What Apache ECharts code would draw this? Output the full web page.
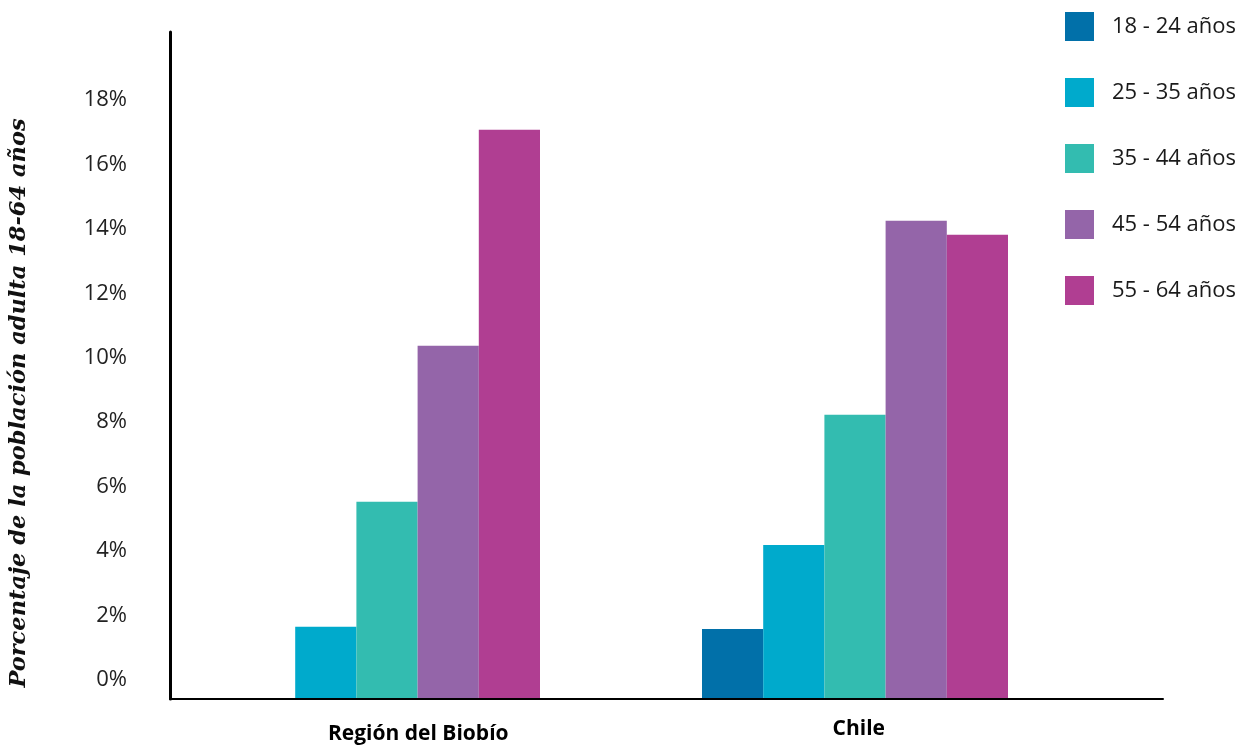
<!DOCTYPE html>
<html>
<head>
<meta charset="utf-8">
<script src="https://cdn.jsdelivr.net/npm/echarts@6/dist/echarts.min.js"></script>
<style>
html,body{margin:0;padding:0;background:#fff;}
#chart{width:1254px;height:749px;}
</style>
</head>
<body>
<div id="chart"></div>
<script>
// ---- data ----
const categories = ['Región del Biobío', 'Chile'];
const seriesNames = ['18 - 24 años', '25 - 35 años', '35 - 44 años', '45 - 54 años', '55 - 64 años'];
const age18_24 = [0, 2.17];
const age25_35 = [2.24, 4.78];
const age35_44 = [6.12, 8.82];
const age45_54 = [10.96, 14.84];
const age55_64 = [17.67, 14.41];
const yTickMax = 18;
const yTitle = 'Porcentaje de la población adulta 18-64 años';

const seriesValues = [age18_24, age25_35, age35_44, age45_54, age55_64];
const colors = ['#0170a9', '#00aacc', '#33bcb0', '#9465a9', '#b03e92'];

const chart = echarts.init(document.getElementById('chart'), null, {renderer: 'canvas'});
const axisMax = 20.7;

const option = {
  animation: false,
  backgroundColor: '#ffffff',
  grid: [
    {left: 153, right: 165, top: 32, bottom: 50},
    {left: 170, right: 91, top: 32, bottom: 50}
  ],
  legend: {
    data: seriesNames,
    orient: 'vertical',
    left: 1060,
    top: 7,
    itemWidth: 29,
    itemHeight: 29,
    itemGap: 37,
    icon: 'rect',
    textStyle: {fontFamily: 'Open Sans', fontSize: 22, color: '#1a1a1a', padding: [0, 0, 0, 13]}
  },
  xAxis: [
    {gridIndex: 0, type: 'category', data: categories, show: false},
    {
      gridIndex: 1, type: 'category', data: categories, z: 5,
      axisLine: {lineStyle: {color: '#000', width: 2}},
      axisTick: {show: false},
      axisLabel: {
        margin: 20,
        formatter: function (v, i) { return i === 0 ? '{a|' + v + '}' : '{b|' + v + '}'; },
        rich: {
          a: {fontFamily: 'Open Sans', fontWeight: 'bold', fontSize: 21, color: '#000', padding: [5, 0, 0, 0]},
          b: {fontFamily: 'Open Sans', fontWeight: 'bold', fontSize: 21, color: '#000', padding: [0, 112, 0, 0]}
        }
      }
    }
  ],
  yAxis: [
    {gridIndex: 0, type: 'value', min: 0, max: axisMax, show: false},
    {
      gridIndex: 1, type: 'value', min: 0, max: axisMax, interval: 2, z: 5,
      axisLine: {show: true, lineStyle: {color: '#000', width: 3}},
      axisTick: {show: false},
      splitLine: {show: false},
      axisLabel: {
        margin: 43,
        fontFamily: 'Open Sans', fontSize: 22, color: '#222',
        verticalAlign: 'bottom',
        lineHeight: 38,
        formatter: function (v) { return v <= yTickMax ? v + '%' : ''; }
      }
    }
  ],
  graphic: [{
    type: 'text',
    x: 19, y: 403,
    rotation: Math.PI / 2,
    style: {
      text: yTitle,
      font: 'italic bold 22.5px "DejaVu Serif"',
      fill: '#111',
      align: 'center',
      verticalAlign: 'middle'
    }
  }],
  series: seriesNames.map(function (name, i) {
    return {
      name: name,
      type: 'bar',
      xAxisIndex: 0,
      yAxisIndex: 0,
      barWidth: 61.2,
      barGap: '0%',
      itemStyle: {color: colors[i]},
      data: seriesValues[i]
    };
  })
};
chart.setOption(option);
</script>
</body>
</html>
